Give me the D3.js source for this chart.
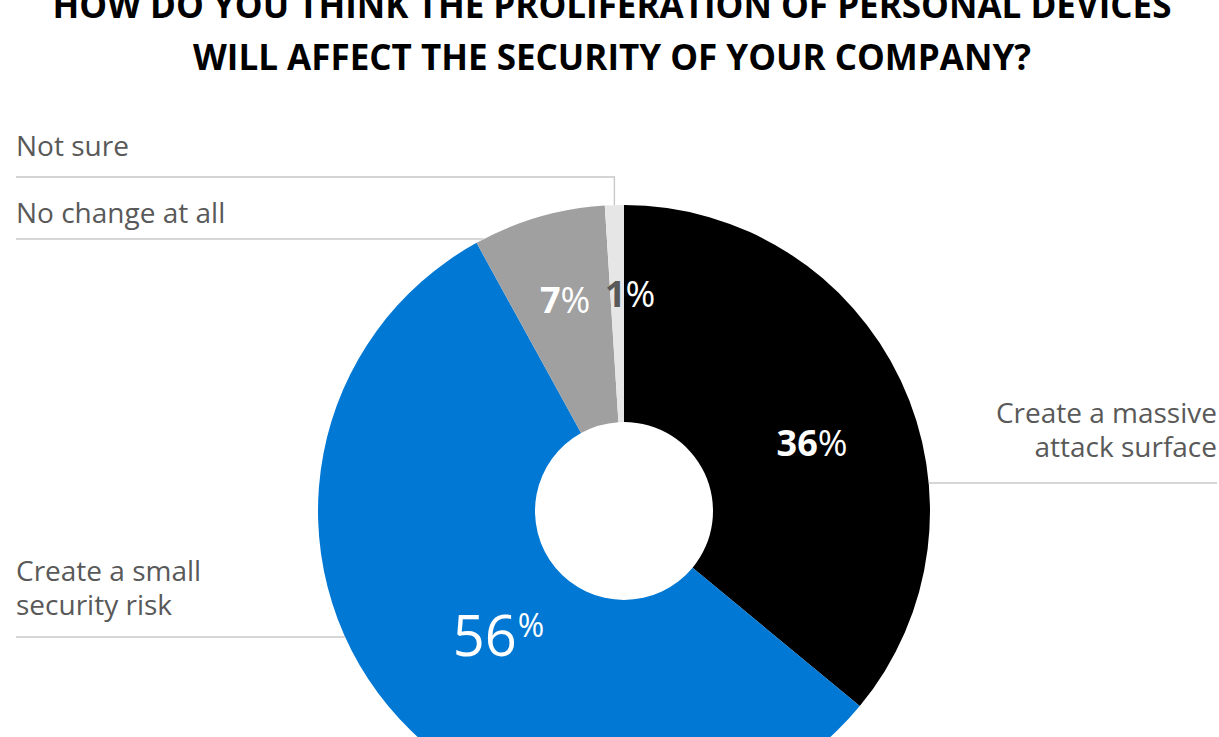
<!DOCTYPE html>
<html>
<head>
<meta charset="utf-8">
<script src="https://cdn.jsdelivr.net/npm/d3@7"></script>
<style>
  html, body { margin: 0; padding: 0; background: #fff; overflow: hidden; }
  svg { display: block; }
</style>
</head>
<body>
<script>
// Survey answers, clockwise from 12 o'clock
const categories = [
  "Create a massive attack surface",
  "Create a small security risk",
  "No change at all",
  "Not sure"
];
const values = [36, 56, 7, 1];
const sliceColors = ["#000000", "#0078D4", "#A0A0A0", "#E6E6E6"];
const titleLines = [
  "HOW DO YOU THINK THE PROLIFERATION OF PERSONAL DEVICES",
  "WILL AFFECT THE SECURITY OF YOUR COMPANY?"
];
// Category labels split across lines
const labelLines = [
  ["Create a massive", "attack surface"],
  ["Create a small", "security risk"],
  ["No change at all"],
  ["Not sure"]
];

// ---- layout ----
const W = 1219, H = 737;
const cx = 624, cy = 511, outerR = 306, innerR = 89;
const FONT = "'Open Sans', 'Noto Sans', sans-serif";
const labelGray = "#595959";
const ruleGray = "#C8C8C8";

// per-slice label placement (angle nudge in degrees, radius) and text style
const valueLabelLayout = [
  { nudge: 5.3,  r: 200, size: 36, numWeight: 700, numColor: "#fff", pctColor: "#fff", pctSize: 36, sup: false, dy: 13 },
  { nudge: -5.2, r: 177, size: 56, numWeight: 400, numColor: "#fff", pctColor: "#fff", pctSize: 32, sup: true,  dy: 20 },
  { nudge: 0.6,  r: 219, size: 36, numWeight: 700, numColor: "#fff", pctColor: "#fff", pctSize: 36, sup: false, dy: 13 },
  { nudge: 3.4,  r: 217, size: 36, numWeight: 700, numColor: "#595959", pctColor: "#fff", pctSize: 36, sup: false, dy: 13 }
];
// category label blocks: side, first baseline, rule y
const catLabelLayout = [
  { side: "right", x: 1217, y: 423, ruleY: 483 },
  { side: "left",  x: 16,   y: 581, ruleY: 637 },
  { side: "left",  x: 16,   y: 223, ruleY: 239 },
  { side: "left",  x: 16,   y: 156, ruleY: 177 }
];

const svg = d3.select("body").append("svg")
  .attr("width", W).attr("height", H);

// title
const title = svg.append("text")
  .attr("text-anchor", "middle")
  .attr("font-family", FONT)
  .attr("font-weight", 700)
  .attr("font-size", 35)
  .attr("fill", "#000");
title.selectAll("tspan").data(titleLines).join("tspan")
  .attr("x", 612)
  .attr("y", (d, i) => 18 + i * 52)
  .text(d => d);

const pie = d3.pie().sort(null).value(d => d);
const arcs = pie(values);
const arc = d3.arc().innerRadius(innerR).outerRadius(outerR);

const g = svg.append("g").attr("transform", `translate(${cx},${cy})`);

g.selectAll("path.slice").data(arcs).join("path")
  .attr("class", "slice")
  .attr("d", arc)
  .attr("fill", (d, i) => sliceColors[i]);

// leader rules under category labels
const rules = svg.append("g")
  .attr("fill", "none")
  .attr("stroke", ruleGray)
  .attr("stroke-width", 1.4);

arcs.forEach((a, i) => {
  const L = catLabelLayout[i];
  const dy = L.ruleY - cy;
  const sign = L.side === "right" ? 1 : -1;
  let pts;
  if (Math.abs(dy) < outerR) {
    const ex = cx + sign * Math.sqrt(outerR * outerR - dy * dy);
    pts = [[L.x, L.ruleY], [ex, L.ruleY]];
  } else {
    // rule passes above the ring: run to the slice middle, then drop to its edge
    const mid = (a.startAngle + a.endAngle) / 2;
    const mx = cx + outerR * Math.sin(mid);
    const my = cy - Math.sqrt(outerR * outerR - (mx - cx) * (mx - cx));
    pts = [[L.x, L.ruleY], [mx, L.ruleY], [mx, my]];
  }
  rules.append("path").attr("d", d3.line()(pts));
});

// category labels
arcs.forEach((a, i) => {
  const L = catLabelLayout[i];
  const t = svg.append("text")
    .attr("font-family", FONT)
    .attr("font-size", 28)
    .attr("fill", labelGray)
    .attr("text-anchor", L.side === "right" ? "end" : "start");
  t.selectAll("tspan").data(labelLines[i]).join("tspan")
    .attr("x", L.x)
    .attr("y", (d, j) => L.y + j * 34)
    .text(d => d);
});

// value labels
arcs.forEach((a, i) => {
  const S = valueLabelLayout[i];
  const ang = (a.startAngle + a.endAngle) / 2 + S.nudge * Math.PI / 180;
  const x = cx + S.r * Math.sin(ang);
  const y = cy - S.r * Math.cos(ang);
  const t = svg.append("text")
    .attr("x", x).attr("y", y + S.dy)
    .attr("text-anchor", "middle")
    .attr("font-family", FONT);
  t.append("tspan")
    .attr("font-size", S.size)
    .attr("font-weight", S.numWeight)
    .attr("fill", S.numColor)
    .text(values[i]);
  const p = t.append("tspan")
    .attr("font-size", S.pctSize)
    .attr("font-weight", 400)
    .attr("fill", S.pctColor)
    .text("%");
  if (S.sup) p.attr("dy", -19).attr("dx", 1);
});
</script>
</body>
</html>
